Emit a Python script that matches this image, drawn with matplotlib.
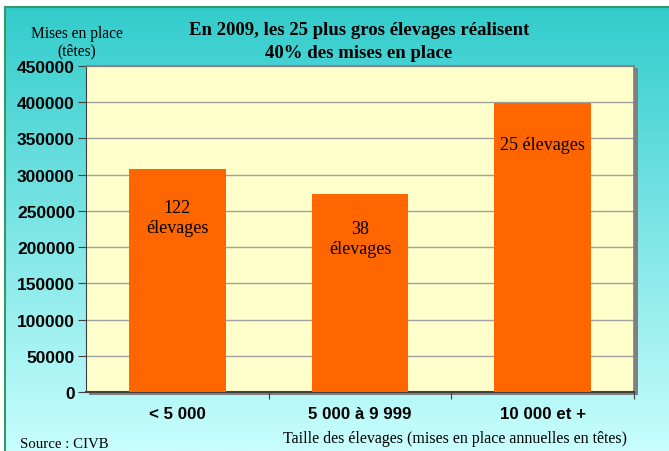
import numpy as np
import matplotlib
matplotlib.use("Agg")
import matplotlib.pyplot as plt
from matplotlib.colors import LinearSegmentedColormap

# data
categories = ["< 5 000", "5 000 à 9 999", "10 000 et +"]
mises_en_place = [308000, 273000, 399000]
bar_labels = ["122\nélevages", "38\nélevages", "25 élevages"]
label_values = [241000, 212000, 341000]
yticks = list(range(0, 450001, 50000))

serif = "Liberation Serif"
sans = "Liberation Sans"

fig = plt.figure(figsize=(6.69, 4.52), dpi=100)

# gradient background with green frame
bg = fig.add_axes([5 / 669, 0, 1 - 5 / 669, 1 - 8 / 452], zorder=0)
grad = np.linspace(0, 1, 256).reshape(-1, 1)
cmap = LinearSegmentedColormap.from_list("bg", ["#33cccc", "#c8fefe"])
bg.imshow(grad, aspect="auto", cmap=cmap, extent=[0, 1, 0, 1], origin="upper")
bg.set_xlim(0, 1)
bg.set_ylim(0, 1)
bg.set_xticks([])
bg.set_yticks([])
for side in ["right", "bottom"]:
    bg.spines[side].set_visible(False)
for side in ["top", "left"]:
    bg.spines[side].set_color("#339966")
    bg.spines[side].set_linewidth(1.5)

# shadow of plot area
sh = fig.add_axes([89 / 669, (452 - 396) / 452, 549 / 669, 327 / 452], zorder=1)
sh.set_facecolor("#808080")
sh.set_xticks([])
sh.set_yticks([])
for s in sh.spines.values():
    s.set_visible(False)

ax = fig.add_axes([86 / 669, (452 - 393) / 452, 548 / 669, 326 / 452], zorder=2)
ax.set_facecolor("#ffffcc")
x = np.arange(len(categories))
ax.bar(x, mises_en_place, width=0.53, color="#ff6600", zorder=3)
ax.set_xlim(-0.5, 2.5)
ax.set_ylim(0, 450000)
ax.set_yticks(yticks)
ax.set_yticklabels([str(v) for v in yticks], fontfamily=sans, fontweight="bold", fontsize=12.5)
ax.yaxis.grid(True, color="#a0a0a0", linewidth=1)
ax.set_axisbelow(True)

ax.set_xticks([0.5, 1.5, 2.5])
ax.set_xticklabels([])
ax.tick_params(axis="x", length=5, color="#404040", direction="out")
ax.tick_params(axis="y", length=6, color="#404040", direction="out", pad=2)
for i, c in enumerate(categories):
    ax.text(i, -22 / 326, c, transform=ax.get_xaxis_transform(), ha="center", va="center",
            fontfamily=sans, fontweight="bold", fontsize=12.2)

for s in ["top", "right"]:
    ax.spines[s].set_color("#808080")
    ax.spines[s].set_linewidth(1.2)
ax.spines["left"].set_color("#404040")
ax.spines["bottom"].set_color("#404040")
ax.spines["bottom"].set_linewidth(1.5)

for i, (lab, v) in enumerate(zip(bar_labels, label_values)):
    ax.text(i, v, lab, ha="center", va="center", fontfamily=serif, fontsize=13,
            linespacing=1.2, zorder=4)

fig.text(359 / 669, 1 - 42 / 452, "En 2009, les 25 plus gros élevages réalisent\n40% des mises en place",
         ha="center", va="center", fontfamily=serif, fontweight="bold", fontsize=13.5,
         linespacing=1.4)
fig.text(77 / 669, 1 - 43 / 452, "Mises en place\n(têtes)", ha="center", va="center",
         fontfamily=serif, fontsize=11.2, linespacing=1.1)
fig.text(455 / 669, 1 - 439 / 452, "Taille des élevages (mises en place annuelles en têtes)",
         ha="center", va="center", fontfamily=serif, fontsize=11.5)
fig.text(20 / 669, 1 - 445 / 452, "Source : CIVB", ha="left", va="center",
         fontfamily=serif, fontsize=10.7)

fig.savefig("out.png", dpi=100)
